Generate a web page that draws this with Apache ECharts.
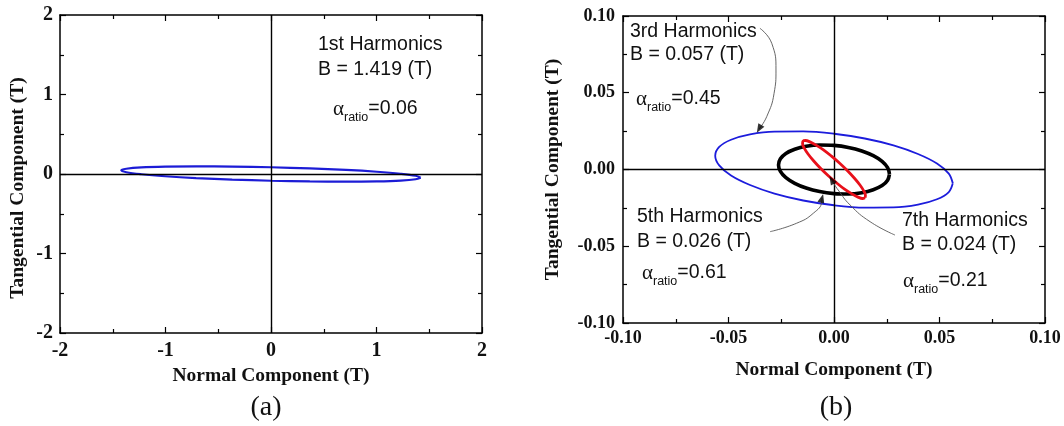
<!DOCTYPE html>
<html>
<head>
<meta charset="utf-8">
<script src="https://cdn.jsdelivr.net/npm/echarts@6.0.0/dist/echarts.min.js"></script>
<style>
  html, body { margin: 0; padding: 0; background: #fff; }
  #chart { width: 1064px; height: 426px; }
</style>
</head>
<body>
<div id="chart"></div>
<script>
// ---- Data ----
// (a) 1st harmonic locus (Normal, Tangential) in T
var locus1st = [
  [1.419,-0.046],[1.371,-0.022],[1.229,0.003],[1.003,0.028],[0.710,0.051],[0.368,0.070],
  [0,0.085],[-0.368,0.094],[-0.710,0.097],[-1.003,0.093],[-1.229,0.083],[-1.371,0.066],
  [-1.419,0.046],[-1.371,0.022],[-1.229,-0.003],[-1.003,-0.028],[-0.710,-0.051],[-0.368,-0.070],
  [0,-0.085],[0.368,-0.094],[0.710,-0.097],[1.003,-0.093],[1.229,-0.083],[1.371,-0.066]
];
// (b) 3rd harmonic locus
var locus3rd = [
  [0.0563,-0.0090],[0.0544,-0.0027],[0.0488,0.0039],[0.0398,0.0101],[0.0282,0.0157],[0.0146,0.0202],
  [0,0.0233],[-0.0146,0.0248],[-0.0282,0.0247],[-0.0398,0.0229],[-0.0488,0.0194],[-0.0544,0.0147],
  [-0.0563,0.0090],[-0.0544,0.0027],[-0.0488,-0.0039],[-0.0398,-0.0101],[-0.0282,-0.0157],[-0.0146,-0.0202],
  [0,-0.0233],[0.0146,-0.0248],[0.0282,-0.0247],[0.0398,-0.0229],[0.0488,-0.0194],[0.0544,-0.0147]
];
// (b) 5th harmonic locus
var locus5th = [
  [0.0263,-0.0030],[0.0254,0.0012],[0.0228,0.0053],[0.0186,0.0090],[0.0132,0.0121],[0.0068,0.0144],
  [0,0.0157],[-0.0068,0.0160],[-0.0132,0.0151],[-0.0186,0.0132],[-0.0228,0.0105],[-0.0254,0.0070],
  [-0.0263,0.0030],[-0.0254,-0.0012],[-0.0228,-0.0053],[-0.0186,-0.0090],[-0.0132,-0.0121],[-0.0068,-0.0144],
  [0,-0.0157],[0.0068,-0.0160],[0.0132,-0.0151],[0.0186,-0.0132],[0.0228,-0.0105],[0.0254,-0.0070]
];
// (b) 7th harmonic locus
var locus7th = [
  [0.0147,-0.0184],[0.0135,-0.0189],[0.0114,-0.0180],[0.0085,-0.0159],[0.0050,-0.0128],[0.0012,-0.0087],
  [-0.0027,-0.0041],[-0.0064,0.0008],[-0.0097,0.0057],[-0.0123,0.0101],[-0.0141,0.0139],[-0.0149,0.0167],
  [-0.0147,0.0184],[-0.0135,0.0189],[-0.0114,0.0180],[-0.0085,0.0159],[-0.0050,0.0128],[-0.0012,0.0087],
  [0.0027,0.0041],[0.0064,-0.0008],[0.0097,-0.0057],[0.0123,-0.0101],[0.0141,-0.0139],[0.0149,-0.0167]
];
// annotation leader curves (data coords of panel b)
var leader3rd = [[-0.0351,0.0920],[-0.0295,0.0822],[-0.0275,0.0648],[-0.0284,0.0496],[-0.0319,0.0344],[-0.0355,0.0264]];
var leader5th = [[-0.0303,-0.0405],[-0.0177,-0.0350],[-0.0098,-0.0285],[-0.0058,-0.0210],[-0.0057,-0.0186]];
var leader7th = [[0.0289,-0.0427],[0.0171,-0.0340],[0.0076,-0.0231],[0.0020,-0.0134],[-0.0009,-0.0075]];
var arrowHeads = [[-0.0355,0.0264],[-0.0057,-0.0188],[-0.0011,-0.0068]];

// tick labels / texts
var ticksA = [-2, -1, 0, 1, 2];
var ticksB = [-0.10, -0.05, 0.00, 0.05, 0.10];
var labelsA = ['1st Harmonics', 'B = 1.419 (T)', '=0.06'];
var labels3 = ['3rd Harmonics', 'B = 0.057 (T)', '=0.45'];
var labels5 = ['5th Harmonics', 'B = 0.026 (T)', '=0.61'];
var labels7 = ['7th Harmonics', 'B = 0.024 (T)', '=0.21'];

// ---- Chart ----
var serif = "'Times New Roman', 'Liberation Serif', serif";
var sans = "Arial, 'Liberation Sans', sans-serif";

function close(arr) { return arr.concat([arr[0]]); }

function mainAxis(grid, pos, min, max, interval, fs, margin, name, nameGap, fmt, namePad) {
  return {
    type: 'value', gridIndex: grid, position: pos, min: min, max: max, interval: interval,
    splitLine: { show: false },
    axisLine: { show: true, onZero: false, lineStyle: { color: '#000', width: 1.5 } },
    axisTick: { show: true, inside: true, length: 6, lineStyle: { color: '#000', width: 1.2 } },
    minorTick: { show: true, splitNumber: 2, length: 4, lineStyle: { color: '#000', width: 1.2 } },
    axisLabel: {
      show: true, margin: margin, showMinLabel: true, showMaxLabel: true,
      fontFamily: serif, fontWeight: 'bold', fontSize: fs, color: '#111',
      formatter: fmt
    },
    name: name, nameLocation: 'middle', nameGap: nameGap,
    nameTextStyle: { fontFamily: serif, fontWeight: 'bold', fontSize: 19.5, color: '#111', padding: namePad || 0 }
  };
}
function mirrorAxis(grid, pos, min, max, interval) {
  return {
    type: 'value', gridIndex: grid, position: pos, min: min, max: max, interval: interval,
    splitLine: { show: false },
    axisLine: { show: true, onZero: false, lineStyle: { color: '#000', width: 1.5 } },
    axisTick: { show: true, inside: true, length: 6, lineStyle: { color: '#000', width: 1.2 } },
    minorTick: { show: true, splitNumber: 2, length: 4, lineStyle: { color: '#000', width: 1.2 } },
    axisLabel: { show: false }
  };
}
var fmtA = function (v) { return String(Math.round(v)); };
var fmtB = function (v) { if (Math.abs(v) < 1e-9) v = 0; return v.toFixed(2); };

function zeroLines() {
  return {
    silent: true, symbol: ['none', 'none'], label: { show: false },
    lineStyle: { type: 'solid', color: '#000', width: 1.4 },
    emphasis: { disabled: true },
    data: [{ xAxis: 0 }, { yAxis: 0 }]
  };
}

function alphaText(x, y, val) {
  return {
    type: 'text', x: x, y: y, z: 100,
    style: {
      text: '{a|α}{s|ratio}{v|' + val + '}',
      textAlign: 'left', textVerticalAlign: 'top',
      rich: {
        a: { fontFamily: serif, fontSize: 21, lineHeight: 20, verticalAlign: 'top', fill: '#111' },
        s: { fontFamily: sans, fontSize: 12.5, lineHeight: 14, padding: [12, 0, 0, 0], verticalAlign: 'top', fill: '#111' },
        v: { fontFamily: sans, fontSize: 19.5, lineHeight: 20, verticalAlign: 'top', fill: '#111' }
      }
    }
  };
}
function plainText(x, y, txt, fs, fam) {
  return {
    type: 'text', x: x, y: y, z: 100,
    style: { text: txt, font: (fs || 19.5) + 'px ' + (fam || sans), fill: '#111', textAlign: 'left', textVerticalAlign: 'middle' }
  };
}

var lineBase = { type: 'line', showSymbol: false, symbol: 'none', smooth: 0.35, silent: true, animation: false };

var option = {
  backgroundColor: '#fff',
  animation: false,
  grid: [
    { left: 60, top: 15, width: 422, height: 318, show: false },
    { left: 623, top: 16, width: 422, height: 307, show: false }
  ],
  xAxis: [
    mainAxis(0, 'bottom', ticksA[0], ticksA[4], 1, 20, 8, 'Normal Component (T)', 27, fmtA),
    mirrorAxis(0, 'top', ticksA[0], ticksA[4], 1),
    mainAxis(1, 'bottom', ticksB[0], ticksB[4], 0.05, 18, 6, 'Normal Component (T)', 37, fmtB),
    mirrorAxis(1, 'top', ticksB[0], ticksB[4], 0.05)
  ],
  yAxis: [
    mainAxis(0, 'left', ticksA[0], ticksA[4], 1, 20, 7, 'Tangential Component (T)', 32, fmtA, [0, 28, 0, 0]),
    mirrorAxis(0, 'right', ticksA[0], ticksA[4], 1),
    mainAxis(1, 'left', ticksB[0], ticksB[4], 0.05, 18, 8, 'Tangential Component (T)', 60, fmtB),
    mirrorAxis(1, 'right', ticksB[0], ticksB[4], 0.05)
  ],
  series: [
    Object.assign({}, lineBase, {
      name: '1st', xAxisIndex: 0, yAxisIndex: 0, data: close(locus1st),
      lineStyle: { color: '#1c1cd6', width: 2.2 }, markLine: zeroLines(), z: 3
    }),
    Object.assign({}, lineBase, {
      name: '3rd', xAxisIndex: 2, yAxisIndex: 2, data: close(locus3rd),
      lineStyle: { color: '#1c1cdc', width: 1.8 }, markLine: zeroLines(), z: 3
    }),
    Object.assign({}, lineBase, {
      name: '5th', xAxisIndex: 2, yAxisIndex: 2, data: close(locus5th),
      lineStyle: { color: '#000', width: 3.6 }, z: 4
    }),
    Object.assign({}, lineBase, {
      name: '7th', xAxisIndex: 2, yAxisIndex: 2, data: close(locus7th),
      lineStyle: { color: '#e8101a', width: 2.8 }, z: 5
    }),
    Object.assign({}, lineBase, {
      name: 'lead3', xAxisIndex: 2, yAxisIndex: 2, data: leader3rd, smooth: 0.5,
      lineStyle: { color: '#555', width: 0.9 }, z: 6
    }),
    Object.assign({}, lineBase, {
      name: 'lead5', xAxisIndex: 2, yAxisIndex: 2, data: leader5th, smooth: 0.5,
      lineStyle: { color: '#555', width: 0.9 }, z: 6
    }),
    Object.assign({}, lineBase, {
      name: 'lead7', xAxisIndex: 2, yAxisIndex: 2, data: leader7th, smooth: 0.5,
      lineStyle: { color: '#555', width: 0.9 }, z: 6
    }),
    {
      type: 'scatter', xAxisIndex: 2, yAxisIndex: 2, silent: true, z: 7,
      symbol: 'triangle', symbolSize: [7, 9], itemStyle: { color: '#000' },
      data: [
        { value: arrowHeads[0], symbolRotate: 150 },
        { value: arrowHeads[1], symbolRotate: -15 },
        { value: arrowHeads[2], symbolRotate: 30 }
      ]
    }
  ],
  graphic: [
    plainText(318, 45, labelsA[0]),
    plainText(318, 70, labelsA[1]),
    alphaText(333, 99, labelsA[2]),

    plainText(630, 32, labels3[0]),
    plainText(630, 55, labels3[1]),
    alphaText(636, 89, labels3[2]),

    plainText(637, 217, labels5[0]),
    plainText(637, 242, labels5[1]),
    alphaText(642, 263, labels5[2]),

    plainText(902, 221, labels7[0]),
    plainText(902, 245, labels7[1]),
    alphaText(903, 271, labels7[2]),

    { type: 'text', x: 266, y: 408, style: { text: '(a)', font: '28px ' + serif, fill: '#111', textAlign: 'center', textVerticalAlign: 'middle' } },
    { type: 'text', x: 836, y: 408, style: { text: '(b)', font: '28px ' + serif, fill: '#111', textAlign: 'center', textVerticalAlign: 'middle' } }
  ]
};

var chart = echarts.init(document.getElementById('chart'), null, { renderer: 'canvas' });
chart.setOption(option);
</script>
</body>
</html>
